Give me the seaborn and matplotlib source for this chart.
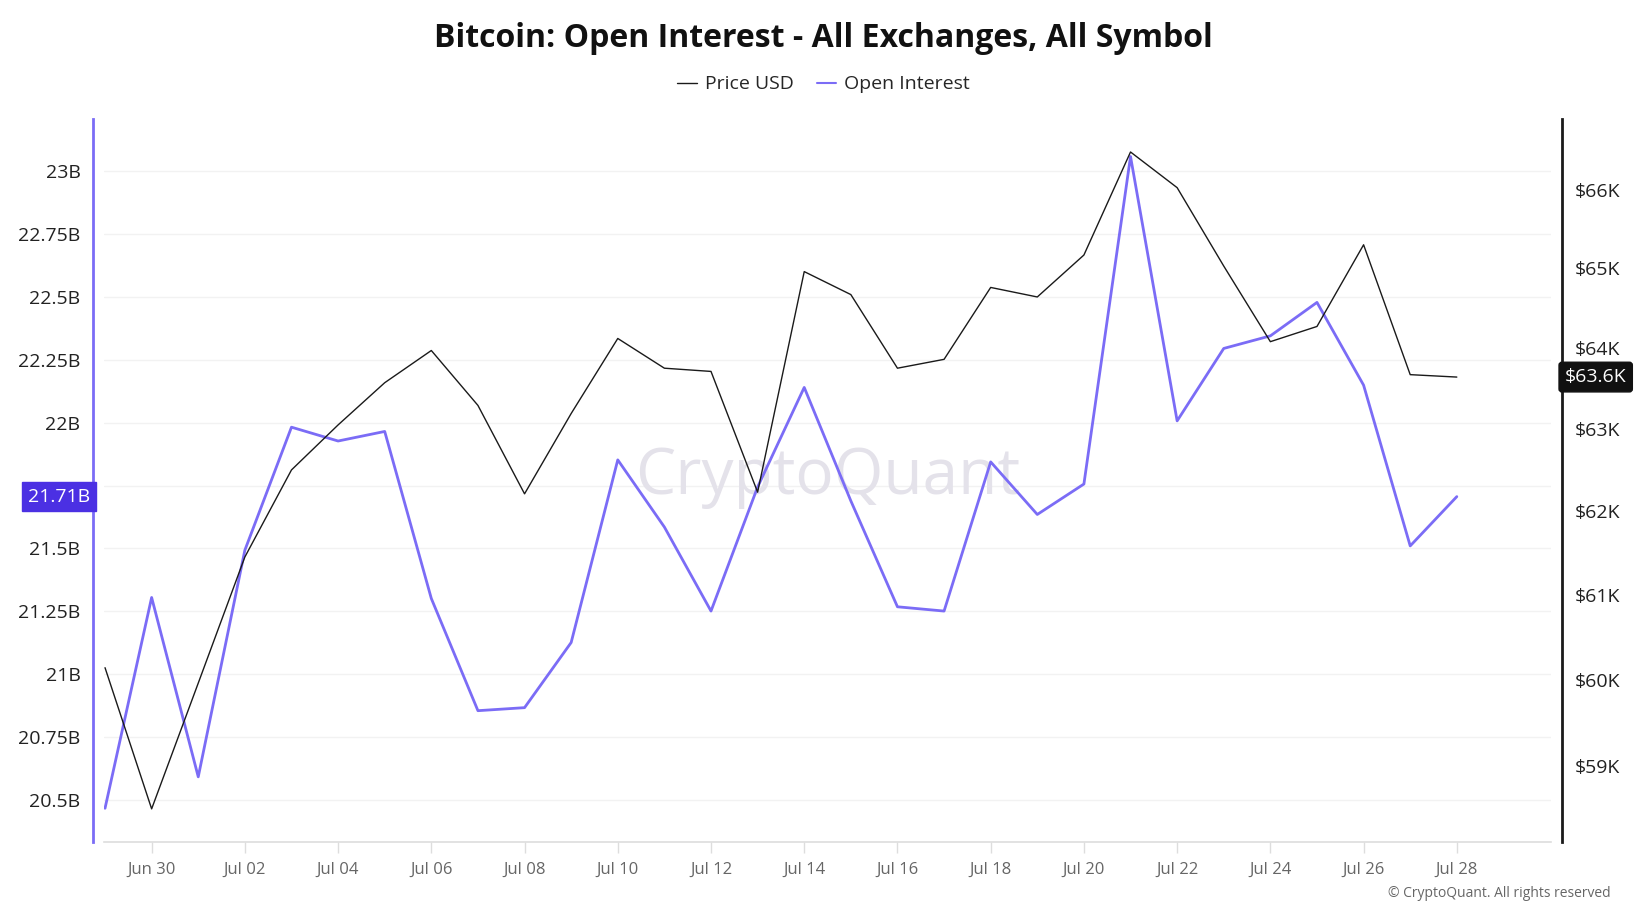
import numpy as np
import pandas as pd
import matplotlib
matplotlib.use("Agg")
import matplotlib.pyplot as plt
from matplotlib.lines import Line2D
import seaborn as sns

# ---- data ----
dates = pd.date_range("2024-06-29", "2024-07-28", freq="D")
open_interest_b = [20.467, 21.305, 20.592, 21.493, 21.982, 21.927, 21.965, 21.301, 20.855, 20.867,
                   21.126, 21.852, 21.585, 21.251, 21.744, 22.140, 21.689, 21.268, 21.251, 21.844,
                   21.635, 21.756, 23.058, 22.007, 22.295, 22.345, 22.478, 22.149, 21.510, 21.706]
price_k = [60.14, 58.51, 59.96, 61.45, 62.50, 63.05, 63.57, 63.97, 63.29, 62.21,
           63.19, 64.12, 63.75, 63.71, 62.23, 64.96, 64.67, 63.75, 63.86, 64.76,
           64.64, 65.17, 66.49, 66.03, 65.03, 64.08, 64.27, 65.30, 63.67, 63.64]
oi_ticks = [20.5, 20.75, 21, 21.25, 21.5, 21.75, 22, 22.25, 22.5, 22.75, 23]
oi_tick_labels = ["20.5B", "20.75B", "21B", "21.25B", "21.5B", "", "22B", "22.25B", "22.5B", "22.75B", "23B"]
price_ticks = [59, 60, 61, 62, 63, 64, 65, 66]
price_tick_labels = ["$59K", "$60K", "$61K", "$62K", "$63K", "$64K", "$65K", "$66K"]
title = "Bitcoin: Open Interest - All Exchanges, All Symbol"

df = pd.DataFrame({"date": dates, "oi": open_interest_b, "price": np.array(price_k) * 1000})

sns.set_theme(style="white")
plt.rcParams["font.family"] = ["Open Sans", "DejaVu Sans"]

PURPLE = "#7B6CF6"
PURPLE_DARK = "#4B30E3"
BLACK = "#1a1a1a"

fig = plt.figure(figsize=(16.47, 9.17), dpi=100)
ax = fig.add_axes([0.0632, 0.0818, 0.8785, 0.7884])
ax2 = ax.twinx()

sns.lineplot(data=df, x="date", y="oi", ax=ax, color=PURPLE, linewidth=2.0, zorder=3)
sns.lineplot(data=df, x="date", y="price", ax=ax2, color=BLACK, linewidth=1.0, zorder=4)

# x axis
x0 = dates[0] - pd.Timedelta(days=0.02)
x1 = dates[-1] + pd.Timedelta(days=2.02)
ax.set_xlim(x0, x1)
tick_dates = pd.date_range("2024-06-30", "2024-07-28", freq="2D")
ax.set_xticks(tick_dates)
ax.set_xticklabels([d.strftime("%b %d") for d in tick_dates])
ax.tick_params(axis="x", length=8, color="#dddddd", width=1, pad=6, bottom=True,
               labelsize=12, labelcolor="#666666")
ax.set_xlabel("")
ax.set_ylabel("")
ax2.set_ylabel("")

# left axis
ax.set_ylim(20.333, 23.207)
ax.set_yticks(oi_ticks)
ax.set_yticklabels(oi_tick_labels)
ax.tick_params(axis="y", length=0, pad=9, labelsize=14, labelcolor="#222222")
ax.grid(axis="y", color="#f2f2f2", linewidth=1)
ax.grid(axis="x", visible=False)

# right axis (log)
ax2.set_yscale("log")
ax2.set_ylim(58134, 66918)
ax2.set_yticks([t * 1000 for t in price_ticks])
ax2.set_yticklabels(price_tick_labels)
ax2.yaxis.set_minor_locator(matplotlib.ticker.NullLocator())
ax2.tick_params(axis="y", length=0, pad=9, labelsize=14, labelcolor="#222222")
ax2.grid(False)

# spines
for a in (ax, ax2):
    a.spines["top"].set_visible(False)
ax.spines["right"].set_visible(False)
ax2.spines["left"].set_visible(False)
ax2.spines["bottom"].set_visible(False)
ax.spines["left"].set_color(PURPLE)
ax.spines["left"].set_linewidth(2)
ax.spines["left"].set_position(("outward", 8))
ax2.spines["right"].set_color(BLACK)
ax2.spines["right"].set_linewidth(2)
ax2.spines["right"].set_position(("outward", 8))
ax.spines["bottom"].set_color("#dddddd")
ax.spines["bottom"].set_linewidth(1.2)

# watermark
ax.text(0.5, 0.505, "CryptoQuant", transform=ax.transAxes, ha="center", va="center",
        fontsize=46, color="#e4e2ea", zorder=1)

# current value labels
last_oi = open_interest_b[-1]
ax.annotate(f"{last_oi:.2f}B", xy=(0, last_oi), xycoords=("axes fraction", "data"),
            xytext=(-10, 0), textcoords="offset points", ha="right", va="center",
            fontsize=14, color="white", zorder=10, annotation_clip=False,
            bbox=dict(boxstyle="square,pad=0.3", fc=PURPLE_DARK, ec=PURPLE_DARK))
last_p = price_k[-1]
ax2.annotate(f"${last_p:.1f}K", xy=(1, last_p * 1000), xycoords=("axes fraction", "data"),
             xytext=(10, 0), textcoords="offset points", ha="left", va="center",
             fontsize=14, color="white", zorder=10, annotation_clip=False,
             bbox=dict(boxstyle="round,pad=0.3,rounding_size=0.15", fc="#111111", ec="#111111"))

# title & legend
fig.text(0.5, 0.958, title, ha="center", va="center", fontsize=23, fontweight="bold", color="#111111")
handles = [Line2D([0], [0], color=BLACK, lw=1.0), Line2D([0], [0], color=PURPLE, lw=1.5)]
fig.legend(handles, ["Price USD", "Open Interest"], loc="center", bbox_to_anchor=(0.5, 0.908),
           ncol=2, frameon=False, fontsize=14, handlelength=1.0, handletextpad=0.4,
           columnspacing=1.2)

fig.text(0.978, 0.026, "© CryptoQuant. All rights reserved", ha="right", va="center",
         fontsize=10, color="#666666")

fig.savefig("out.png", dpi=100, facecolor="white")
